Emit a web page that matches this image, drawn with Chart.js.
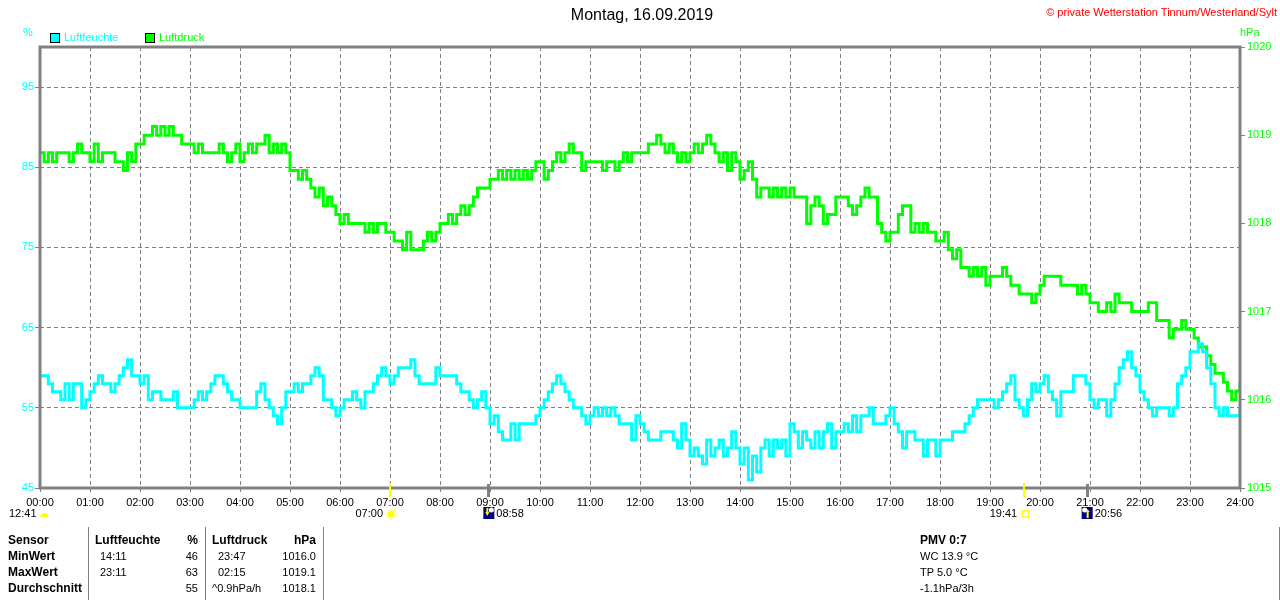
<!DOCTYPE html>
<html><head><meta charset="utf-8">
<script src="https://cdn.jsdelivr.net/npm/chart.js@4.4.1/dist/chart.umd.min.js"></script>
<style>
body{margin:0;background:#fff;}
#wrap{position:relative;width:1280px;height:600px;font-family:"Liberation Sans",Arial,sans-serif;overflow:hidden;background:#fff;}
#c{position:absolute;left:0;top:0;}
.t{position:absolute;white-space:nowrap;line-height:1;font-size:11px;color:#000;}
.b{font-weight:bold;font-size:12px;}
.r{text-align:right;}
.sep{position:absolute;width:1px;background:#808080;top:527px;height:73px;}
.box{position:absolute;width:8px;height:8px;border:1px solid #000;}
</style></head><body>
<div id="wrap">
<canvas id="c" width="1280" height="600"></canvas>
<div class="t" style="left:0;width:1284px;text-align:center;top:7px;font-size:16px;">Montag, 16.09.2019</div>
<div class="t" style="right:3px;top:7px;color:#ff0000;font-size:11px;">© private Wetterstation Tinnum/Westerland/Sylt</div>
<div class="t" style="left:23px;top:27px;color:#00ffff;">%</div>
<div class="t" style="left:1240px;top:27px;color:#00ff00;">hPa</div>
<div class="box" style="left:50px;top:33px;background:#00ffff;"></div>
<div class="t" style="left:64px;top:32px;color:#00ffff;">Luftfeuchte</div>
<div class="box" style="left:145px;top:33px;background:#00ff00;"></div>
<div class="t" style="left:159px;top:32px;color:#00ff00;">Luftdruck</div>
<div id="table"></div>
</div>
<script>
// ---- data (5-minute samples, 00:00 .. 24:00) ----
const humidity = [
59,59,58,57,57,56,58,56,58,58,55,56,
57,58,59,58,58,57,58,59,60,61,59,59,
58,59,56,57,57,56,56,56,57,55,55,55,
55,56,57,56,57,58,59,59,58,57,56,56,
55,55,55,55,57,58,56,55,54,53,55,57,
57,58,57,58,58,59,60,59,56,56,55,54,
55,56,56,57,56,55,57,57,58,59,60,59,
58,59,60,60,60,61,59,58,58,58,58,60,
59,59,59,59,58,57,57,56,55,56,57,55,
53,54,52,51,51,53,51,53,53,53,53,54,
55,56,57,58,59,58,57,56,55,55,54,53,
54,55,54,55,54,55,54,53,53,53,51,54,
53,52,51,51,51,52,52,52,51,50,53,51,
49,50,49,48,51,49,50,51,49,50,52,50,
48,50,46,49,47,50,51,49,51,50,51,49,
53,52,50,52,51,50,52,50,52,53,50,52,
52,53,52,54,52,54,54,55,53,53,53,54,
55,53,52,50,52,52,51,51,49,51,51,49,
51,51,51,52,52,52,53,54,55,56,56,56,
56,55,56,57,58,59,56,55,54,56,58,57,
58,59,57,56,54,57,57,57,59,59,59,58,
56,55,56,56,54,56,58,60,61,62,60,59,
57,56,55,54,55,55,55,54,55,58,59,60,
62,62,63,62,60,58,55,54,55,54,54,54,
55];
const pressure = [
1018.8,1018.7,1018.8,1018.7,1018.8,1018.8,1018.8,1018.7,1018.8,1018.9,1018.8,1018.8,
1018.7,1018.9,1018.7,1018.8,1018.8,1018.8,1018.7,1018.7,1018.6,1018.8,1018.7,1018.9,
1018.9,1019.0,1019.0,1019.1,1019.0,1019.1,1019.0,1019.1,1019.0,1019.0,1018.9,1018.9,
1018.9,1018.8,1018.9,1018.8,1018.8,1018.8,1018.8,1018.9,1018.8,1018.7,1018.8,1018.9,
1018.7,1018.8,1018.9,1018.8,1018.9,1018.9,1019.0,1018.8,1018.9,1018.8,1018.9,1018.8,
1018.6,1018.6,1018.5,1018.6,1018.5,1018.4,1018.3,1018.4,1018.2,1018.3,1018.2,1018.1,
1018.0,1018.1,1018.0,1018.0,1018.0,1018.0,1017.9,1018.0,1017.9,1018.0,1018.0,1017.9,
1017.9,1017.8,1017.8,1017.7,1017.9,1017.7,1017.7,1017.7,1017.8,1017.9,1017.8,1017.9,
1018.0,1018.0,1018.1,1018.0,1018.1,1018.2,1018.1,1018.2,1018.3,1018.4,1018.4,1018.4,
1018.5,1018.5,1018.6,1018.5,1018.6,1018.5,1018.6,1018.5,1018.6,1018.5,1018.6,1018.7,
1018.7,1018.5,1018.6,1018.7,1018.8,1018.7,1018.8,1018.9,1018.8,1018.8,1018.6,1018.7,
1018.7,1018.7,1018.7,1018.6,1018.7,1018.7,1018.6,1018.7,1018.8,1018.7,1018.8,1018.8,
1018.8,1018.8,1018.9,1018.9,1019.0,1018.9,1018.8,1018.9,1018.8,1018.7,1018.8,1018.7,
1018.8,1018.9,1018.8,1018.9,1019.0,1018.9,1018.8,1018.7,1018.8,1018.6,1018.8,1018.7,
1018.5,1018.6,1018.7,1018.5,1018.3,1018.4,1018.4,1018.3,1018.4,1018.3,1018.4,1018.3,
1018.4,1018.3,1018.3,1018.3,1018.0,1018.2,1018.3,1018.2,1018.0,1018.1,1018.1,1018.3,
1018.3,1018.3,1018.2,1018.1,1018.2,1018.3,1018.4,1018.3,1018.3,1018.0,1017.9,1017.8,
1017.9,1017.9,1018.1,1018.2,1018.2,1017.9,1018.0,1017.9,1018.0,1017.9,1017.9,1017.8,
1017.8,1017.9,1017.7,1017.6,1017.7,1017.5,1017.5,1017.4,1017.5,1017.4,1017.5,1017.3,
1017.4,1017.4,1017.4,1017.5,1017.4,1017.3,1017.3,1017.2,1017.2,1017.2,1017.1,1017.2,
1017.3,1017.4,1017.4,1017.4,1017.4,1017.3,1017.3,1017.3,1017.3,1017.2,1017.3,1017.2,
1017.1,1017.1,1017.0,1017.0,1017.1,1017.0,1017.2,1017.1,1017.1,1017.1,1017.0,1017.0,
1017.0,1017.0,1017.1,1017.1,1016.9,1016.9,1016.9,1016.7,1016.8,1016.8,1016.9,1016.8,
1016.8,1016.7,1016.6,1016.6,1016.5,1016.4,1016.3,1016.3,1016.2,1016.1,1016.0,1016.1,
1016.2];
const humidityTicks = [45,55,65,75,85,95];
const pressureTicks = [1015,1016,1017,1018,1019,1020];
const hourTicks = [0,60,120,180,240,300,360,420,480,540,600,660,720,780,840,900,960,1020,1080,1140,1200,1260,1320,1380,1440];
const sunTimes = ['07:00','19:41'];
const moonTimes = ['08:58','20:56'];
const tableHeader = ['Sensor','Luftfeuchte','%','Luftdruck','hPa'];
const tableRows = [
  ['MinWert','14:11','46','23:47','1016.0'],
  ['MaxWert','23:11','63','02:15','1019.1'],
  ['Durchschnitt','','55','^0.9hPa/h','1018.1']
];
const extraInfo = ['PMV 0:7','WC 13.9 °C','TP 5.0 °C','-1.1hPa/3h'];

const times = humidity.map((_, i) => i * 5);
const toMin = s => { const p = s.split(':'); return (+p[0]) * 60 + (+p[1]); };
const pad2 = n => (n < 10 ? '0' : '') + n;
const FONT = "'Liberation Sans', Arial, sans-serif";

const framePlugin = {
  id: 'frame',
  afterDatasetsDraw(chart) {
    const {ctx, chartArea: a} = chart;
    ctx.save();
    ctx.strokeStyle = '#808080';
    ctx.lineWidth = 3;
    ctx.strokeRect(a.left, a.top, a.right - a.left, a.bottom - a.top);
    ctx.restore();
  }
};

const markerPlugin = {
  id: 'markers',
  afterDraw(chart) {
    const {ctx, chartArea: a} = chart;
    const xs = chart.scales.x;
    ctx.save();
    ctx.font = '11px ' + FONT;
    ctx.textBaseline = 'middle';
    ctx.fillStyle = '#000';
    const ly = 514;
    ctx.textAlign = 'left';
    ctx.fillText('12:41', 9, ly);
    ctx.fillStyle = '#ffff00';
    ctx.beginPath(); ctx.arc(44.5, 517, 4, Math.PI, 0); ctx.closePath(); ctx.fill();
    sunTimes.forEach((t, i) => {
      const px = xs.getPixelForValue(toMin(t));
      ctx.fillStyle = '#ffff00';
      ctx.fillRect(Math.round(px) - 1, a.bottom - 5, 2, 14);
      ctx.fillStyle = '#000';
      ctx.textAlign = 'right';
      ctx.fillText(t, px - 7, ly);
      if (i === 0) {
        ctx.fillStyle = '#ffff00';
        ctx.strokeStyle = '#ffff00';
        ctx.beginPath(); ctx.arc(px + 1, ly, 3.5, 0, Math.PI * 2); ctx.fill();
        ctx.lineWidth = 1;
        for (let k = 0; k < 8; k++) {
          const an = k * Math.PI / 4;
          ctx.beginPath();
          ctx.moveTo(px + 1 + Math.cos(an) * 4.5, ly + Math.sin(an) * 4.5);
          ctx.lineTo(px + 1 + Math.cos(an) * 6, ly + Math.sin(an) * 6);
          ctx.stroke();
        }
      } else {
        ctx.strokeStyle = '#ffff00';
        ctx.lineWidth = 1.5;
        ctx.strokeRect(px - 1.5, ly - 3, 6, 6);
      }
    });
    moonTimes.forEach((t, i) => {
      const px = xs.getPixelForValue(toMin(t));
      ctx.fillStyle = '#808080';
      ctx.fillRect(Math.round(px) - 1, a.bottom - 4, 3, 13);
      ctx.fillStyle = '#000080';
      ctx.fillRect(px - 5, 507, 11, 12);
      ctx.fillStyle = '#ffffff';
      ctx.beginPath(); ctx.arc(px + (i === 0 ? 3 : -2), 510, 2.5, 0, Math.PI * 2); ctx.fill();
      ctx.fillStyle = '#ffff00';
      ctx.beginPath();
      if (i === 0) {
        ctx.moveTo(px - 3, 512); ctx.lineTo(px + 1, 512); ctx.lineTo(px - 1, 516); ctx.closePath();
        ctx.fill(); ctx.fillRect(px - 2, 508, 2, 4);
      } else {
        ctx.moveTo(px - 1, 512); ctx.lineTo(px + 3, 512); ctx.lineTo(px + 1, 509); ctx.closePath();
        ctx.fill(); ctx.fillRect(px, 512, 2, 6);
      }
      ctx.fillStyle = '#000';
      ctx.textAlign = 'left';
      ctx.fillText(t, px + 8, ly);
    });
    ctx.restore();
  }
};

new Chart(document.getElementById('c'), {
  type: 'line',
  data: {
    datasets: [
      { label: 'Luftfeuchte', data: times.map((t, i) => ({x: t, y: humidity[i]})), yAxisID: 'yH',
        borderColor: '#00ffff', backgroundColor: '#00ffff', borderWidth: 3, pointRadius: 0, stepped: true, fill: false },
      { label: 'Luftdruck', data: times.map((t, i) => ({x: t, y: pressure[i]})), yAxisID: 'yP',
        borderColor: '#00ff00', backgroundColor: '#00ff00', borderWidth: 3, pointRadius: 0, stepped: true, fill: false }
    ]
  },
  options: {
    responsive: false,
    animation: false,
    devicePixelRatio: 1,
    layout: { padding: { left: 0, right: 0, top: 47, bottom: 87 } },
    plugins: { legend: { display: false }, title: { display: false }, tooltip: { enabled: false } },
    scales: {
      x: {
        type: 'linear', min: 0, max: 1440,
        afterBuildTicks(s) { s.ticks = hourTicks.map(v => ({value: v})); },
        afterFit(s) { s.height = 25; },
        ticks: { autoSkip: false, maxRotation: 0, color: '#000', padding: 3,
                 font: { family: FONT, size: 11 },
                 callback: v => pad2(Math.floor(v / 60)) + ':00' },
        grid: { color: '#808080', lineWidth: 1, tickLength: 5, tickColor: '#808080', tickBorderDash: [4, 3] },
        border: { display: false, dash: [4, 3] }
      },
      yH: {
        position: 'left', min: 45, max: 100,
        afterBuildTicks(s) { s.ticks = humidityTicks.map(v => ({value: v})); },
        afterFit(s) { s.width = 40; },
        ticks: { color: '#00ffff', padding: 1, font: { family: FONT, size: 11 }, callback: v => String(v) },
        grid: { color: '#808080', lineWidth: 1, tickLength: 5, tickColor: '#808080', tickBorderDash: [] },
        border: { display: false, dash: [4, 3] }
      },
      yP: {
        position: 'right', min: 1015, max: 1020,
        afterBuildTicks(s) { s.ticks = pressureTicks.map(v => ({value: v})); },
        afterFit(s) { s.width = 40; },
        ticks: { color: '#00ff00', padding: 2, font: { family: FONT, size: 11 }, callback: v => String(v) },
        grid: { drawOnChartArea: false, color: '#808080', tickLength: 5, tickColor: '#808080', tickBorderDash: [] },
        border: { display: false }
      }
    }
  },
  plugins: [framePlugin, markerPlugin]
});

// ---- statistics table ----
const tbl = document.getElementById('table');
const colX = [8, 100, 198, 218, 316];
const colAlign = ['l', 'l', 'r', 'l', 'r'];
const headX = [8, 95, 198, 212, 316];
const rowY = [541, 557, 573, 589];
function addText(txt, x, y, align, bold) {
  const d = document.createElement('div');
  d.className = 't' + (bold ? ' b' : '');
  d.textContent = txt;
  d.style.top = (y - (bold ? 7 : 6)) + 'px';
  if (align === 'r') { d.style.right = (1280 - x) + 'px'; } else { d.style.left = x + 'px'; }
  tbl.appendChild(d);
}
tableHeader.forEach((h, i) => addText(h, headX[i], rowY[0], colAlign[i], true));
tableRows.forEach((row, r) => row.forEach((c, i) => {
  if (!c) return;
  const x = i === 0 ? 8 : (i === 3 && c.charAt(0) === '^' ? 212 : colX[i]);
  addText(c, x, rowY[r + 1], colAlign[i], i === 0);
}));
extraInfo.forEach((c, i) => addText(c, 920, rowY[i], 'l', i === 0));
[88, 205, 323, 1279].forEach(x => {
  const s = document.createElement('div');
  s.className = 'sep'; s.style.left = x + 'px';
  tbl.appendChild(s);
});
</script>
</body></html>
